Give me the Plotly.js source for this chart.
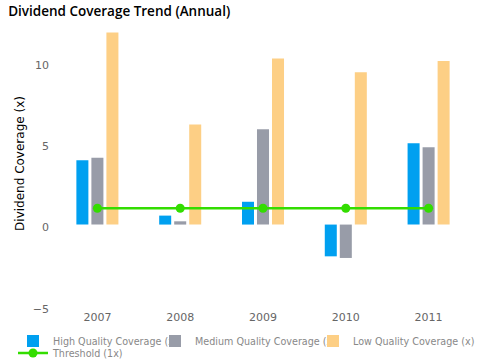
<!DOCTYPE html>
<html>
<head>
<meta charset="utf-8">
<script src="https://cdn.plot.ly/plotly-3.0.1.min.js"></script>
<style>html,body{margin:0;padding:0;background:#fff;}#chart{width:480px;height:360px;}</style>
</head>
<body>
<div id="chart"></div>
<script>
const years = ['2007', '2008', '2009', '2010', '2011'];
const highQuality = [3.95, 0.55, 1.4, -1.95, 5.0];
const mediumQuality = [4.1, 0.2, 5.85, -2.05, 4.75];
const lowQuality = [11.8, 6.15, 10.2, 9.35, 10.05];
const threshold = [1, 1, 1, 1, 1];
const seriesNames = ['High Quality Coverage (x)', 'Medium Quality Coverage (x)', 'Low Quality Coverage (x)', 'Threshold (1x)'];

const traces = [
  {type: 'bar', name: seriesNames[0], x: years, y: highQuality, marker: {color: '#00a0f0'}, legend: 'legend'},
  {type: 'bar', name: seriesNames[1], x: years, y: mediumQuality, marker: {color: '#989ca8'}, legend: 'legend2'},
  {type: 'bar', name: seriesNames[2], x: years, y: lowQuality, marker: {color: '#fdcf85'}, legend: 'legend3'},
  {type: 'scatter', mode: 'lines+markers', name: seriesNames[3], x: years, y: threshold, legend: 'legend4',
   line: {color: '#33dd00', width: 2.5}, marker: {color: '#33dd00', size: 9}}
];

const legendFont = {family: 'DejaVu Sans, sans-serif', size: 9.6, color: '#888'};
function legendAt(px, py) {
  return {orientation: 'h', xref: 'container', yref: 'container', x: px / 480, xanchor: 'left',
          y: 1 - py / 360, yanchor: 'middle', font: legendFont, itemwidth: 30,
          tracegroupgap: 0, bgcolor: 'rgba(0,0,0,0)'};
}
const layout = {
  width: 480, height: 360,
  margin: {l: 56, r: 10, t: 21, b: 54},
  paper_bgcolor: '#fff', plot_bgcolor: '#fff',
  font: {family: 'DejaVu Sans, sans-serif', color: '#666', size: 11},
  title: {text: 'Dividend Coverage Trend (Annual)', x: 0.017, xanchor: 'left', y: 0.968, yanchor: 'middle',
          font: {family: 'Open Sans, DejaVu Sans, sans-serif', size: 13.5, weight: 600, color: '#000'}},
  barmode: 'group', bargap: 0.456, bargroupgap: 0.2,
  showlegend: true,
  legend: legendAt(13, 341),
  legend2: legendAt(155, 341),
  legend3: legendAt(313, 341),
  legend4: legendAt(13, 353),
  xaxis: {type: 'category', showgrid: false, zeroline: false, showline: false, ticks: '',
          ticklabelstandoff: 3, tickfont: {size: 11, color: '#666'}},
  yaxis: {range: [-5, 12.5], tickvals: [-5, 0, 5, 10], ticktext: ['\u22125', '0', '5', '10'],
          showgrid: false, zeroline: false, showline: false, ticks: '', ticklabelstandoff: 6,
          ticklabelshift: 3, tickfont: {size: 11, color: '#666'},
          title: {text: 'Dividend Coverage (x)', font: {size: 12, color: '#000'}, standoff: 5}}
};

Plotly.newPlot('chart', traces, layout, {displayModeBar: false, staticPlot: true});
</script>
</body>
</html>
